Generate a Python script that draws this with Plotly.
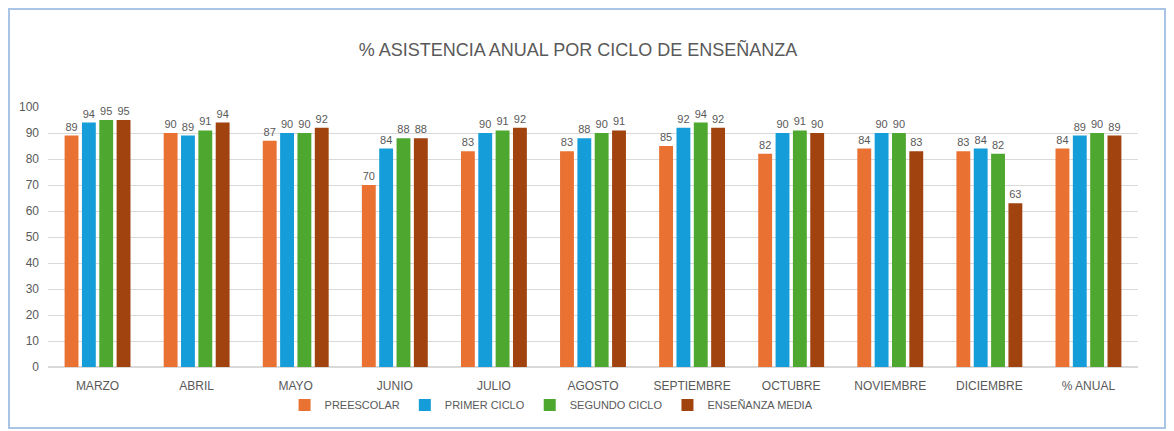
import plotly.graph_objects as go

#====================================================
# DATA
#====================================================

meses = [
    "MARZO", "ABRIL", "MAYO", "JUNIO", "JULIO", "AGOSTO",
    "SEPTIEMBRE", "OCTUBRE", "NOVIEMBRE", "DICIEMBRE", "% ANUAL"
]

preescolar = [89, 90, 87, 70, 83, 83, 85, 82, 84, 83, 84]
primer_ciclo = [94, 89, 90, 84, 90, 88, 92, 90, 90, 84, 89]
segundo_ciclo = [95, 91, 90, 88, 91, 90, 94, 91, 90, 82, 90]
ensenanza_media = [95, 94, 92, 88, 92, 91, 92, 90, 83, 63, 89]

series = [
    ("PREESCOLAR", preescolar, "#E97132"),
    ("PRIMER CICLO", primer_ciclo, "#149DD8"),
    ("SEGUNDO CICLO", segundo_ciclo, "#4EA72E"),
    ("ENSEÑANZA MEDIA", ensenanza_media, "#A0430F"),
]

#====================================================
# FIGURE
#====================================================

# the page body adds 8px around the figure
W, H = 1166, 423
ML, MR, MT, MB = 40, 36, 99, 64
PW = W - ML - MR
PH = H - MT - MB

fig = go.Figure()

for name, vals, color in series:

    fig.add_trace(go.Bar(
        x=meses,
        y=vals,
        name=name,
        marker=dict(color=color, line=dict(width=0)),
        text=vals,
        textposition="outside",
        textfont=dict(size=11, color="#595959"),
        cliponaxis=False
    ))

# light blue frame around the chart
fig.add_shape(
    type="rect",
    xref="paper", yref="paper",
    x0=(1 - ML) / PW, x1=(1157 - ML) / PW,
    y0=-(420 - (H - MB)) / PH, y1=(H - MB - 1) / PH,
    line=dict(color="#A9C4E4", width=2),
    fillcolor="rgba(0,0,0,0)"
)

fig.update_layout(

    width=W,
    height=H,

    margin=dict(l=ML, r=MR, t=MT, b=MB),

    paper_bgcolor="white",
    plot_bgcolor="white",

    font=dict(family="Liberation Sans, Arial, sans-serif", color="#595959"),

    title=dict(
        text="% ASISTENCIA ANUAL POR CICLO DE ENSEÑANZA",
        x=570 / W,
        xanchor="center",
        y=1 - 42 / H,
        yanchor="middle",
        font=dict(size=18, color="#595959")
    ),

    barmode="group",
    bargap=0.3,
    bargroupgap=0.2,

    legend=dict(
        orientation="h",
        x=0.462,
        xanchor="center",
        y=-38 / PH,
        yanchor="middle",
        font=dict(size=11, color="#595959"),
        itemwidth=30,
        tracegroupgap=0
    ),

    uniformtext=dict(minsize=8, mode="show")
)

fig.update_xaxes(
    showgrid=False,
    showline=False,
    ticks="",
    ticklabelstandoff=10,
    tickfont=dict(size=12, color="#595959")
)

fig.update_yaxes(
    range=[0, 100],
    dtick=10,
    showgrid=True,
    gridcolor="#D9D9D9",
    gridwidth=1,
    zeroline=True,
    zerolinecolor="#D9D9D9",
    showline=False,
    ticks="",
    ticklabelstandoff=8,
    tickfont=dict(size=12, color="#595959")
)

fig.write_html("out.html")
